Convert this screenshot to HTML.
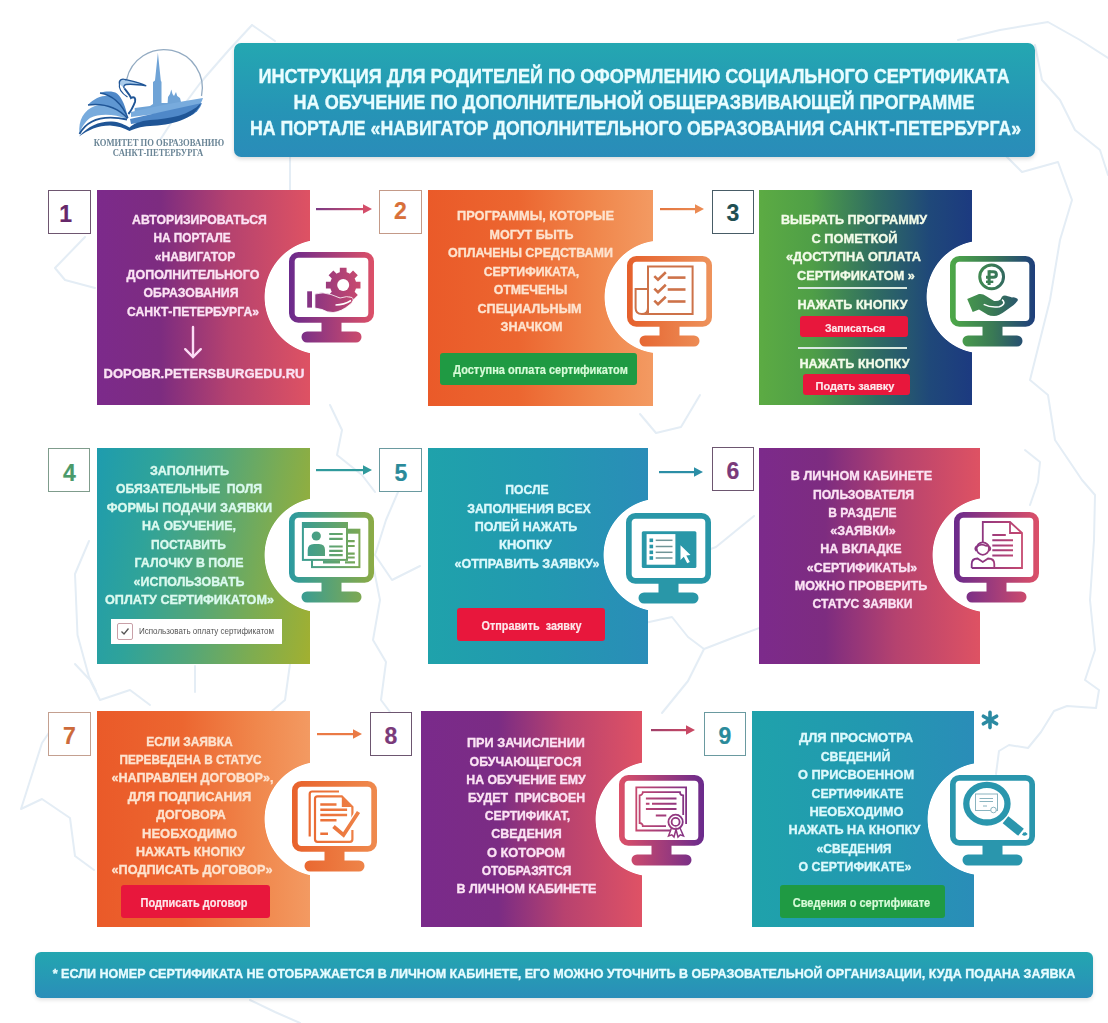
<!DOCTYPE html>
<html><head><meta charset="utf-8"><title>Инструкция</title><style>
html,body{margin:0;padding:0}
body{width:1108px;height:1023px;position:relative;overflow:hidden;background:#fff;font-family:"Liberation Sans", sans-serif}
.abs{position:absolute}
.card{position:absolute}
.circ{position:absolute;border-radius:50%;background:#fff;box-shadow:0 0 2px rgba(120,120,140,.35)}
.num{position:absolute;box-sizing:border-box;border:1.6px solid;background:#fff}
.dig{position:absolute;width:40px;text-align:center;font-weight:700;font-size:23px;line-height:23px;-webkit-text-stroke:0.2px currentColor}
.tb{position:absolute;text-align:center;font-weight:700;white-space:nowrap;transform-origin:50% 0;-webkit-text-stroke:0.35px currentColor}
.btn{position:absolute;border-radius:3px;text-align:center;font-weight:700;white-space:nowrap}
#hdr{position:absolute;left:234px;top:43px;width:801px;height:114px;border-radius:7px;background:linear-gradient(180deg,#24a7b1 0%,#2694b6 60%,#2a8cb9 100%);box-shadow:0 2px 4px rgba(0,0,0,.15)}
#ftr{position:absolute;left:35px;top:952px;width:1058px;height:46px;border-radius:6px;background:linear-gradient(180deg,#23a6b0 0%,#2a8eb9 100%);box-shadow:0 2px 4px rgba(0,0,0,.12)}
</style></head>
<body>
<svg class="abs" style="left:0;top:0" width="1108" height="1023" viewBox="0 0 1108 1023"><g fill="none" stroke="#e4edf5" stroke-width="2" stroke-linejoin="round" stroke-linecap="round"><path d="M252 25 L275 41"/><path d="M252 25 L228 51 L201 82 L175 117 L160 140"/><path d="M290 157 L290 190"/><path d="M958 40 L1000 30 L1048 22 L1080 40 L1108 58"/><path d="M1035 45 L1042 80 L1060 100 L1075 130 L1100 150 L1108 175"/><path d="M1000 150 L1022 172 L1058 162 L1072 200 L1060 240 L1050 300 L1035 360 L1030 380 L1048 395 L1055 440 L1082 480 L1095 495 L1094 540 L1090 600 L1095 650 L1085 680 L1099 690 L1096 708 L1067 706 L1054 711 L1041 732 L1028 748 L1009 745 L999 751 L996 774"/><path d="M1025 450 L1040 462 L1038 482 L1030 505"/><path d="M85 237 L55 268 L65 280 L95 288"/><path d="M330 405 L342 430 L337 455 L362 475 L375 492"/><path d="M398 492 L386 520 L375 555 L392 580 L420 566"/><path d="M372 560 L380 600 L373 640 L386 662 L381 700 L390 712"/><path d="M640 414 L656 433 L681 427 L700 395"/><path d="M754 516 L716 547 L681 560"/><path d="M640 624 L672 617 L688 637 L704 649 L735 637 L770 624"/><path d="M704 649 L688 681 L662 713"/><path d="M89 541 L75 574 L77.5 635 L89 677 L96 691"/><path d="M61 715 L42 743 L21 809 L42 799 L70 818 L75 856 L94 870"/><path d="M75 664 L90 680 L100 700 L130 690 L150 705"/><path d="M195 666 L195 692"/><path d="M290 664 L285 700 L272 711"/><path d="M250 1000 L275 1012 L300 1023"/></g></svg>
<div class="card" style="left:97px;top:190px;width:213px;height:215px;background:linear-gradient(90deg,#7c2a8b 0%,#7d2c80 30%,#b5426f 62%,#de5263 100%);-webkit-mask-image:radial-gradient(circle at 225px 107px, transparent 57px, #000 57.8px);mask-image:radial-gradient(circle at 225px 107px, transparent 57px, #000 57.8px)"></div>
<div class="card" style="left:428px;top:190px;width:225px;height:216px;background:linear-gradient(90deg,#ea5a29 0%,#ec6630 40%,#f0874c 75%,#f39a62 100%);-webkit-mask-image:radial-gradient(circle at 233px 107px, transparent 56px, #000 56.8px);mask-image:radial-gradient(circle at 233px 107px, transparent 56px, #000 56.8px)"></div>
<div class="card" style="left:759px;top:190px;width:213px;height:215px;background:linear-gradient(90deg,#5cab43 0%,#4f9f47 25%,#2f6c62 55%,#1f4879 80%,#1c3a80 100%);-webkit-mask-image:radial-gradient(circle at 224px 107px, transparent 56px, #000 56.8px);mask-image:radial-gradient(circle at 224px 107px, transparent 56px, #000 56.8px)"></div>
<div class="card" style="left:97px;top:448px;width:213px;height:216px;background:linear-gradient(100deg,#1e9cae 0%,#2fa39a 25%,#52a67a 50%,#7cac52 75%,#a2b030 100%);-webkit-mask-image:radial-gradient(circle at 225px 107px, transparent 57px, #000 57.8px);mask-image:radial-gradient(circle at 225px 107px, transparent 57px, #000 57.8px)"></div>
<div class="card" style="left:428px;top:448px;width:220px;height:216px;background:linear-gradient(90deg,#1fa2ab 0%,#2299b0 50%,#2a8db8 100%);-webkit-mask-image:radial-gradient(circle at 232px 107px, transparent 56px, #000 56.8px);mask-image:radial-gradient(circle at 232px 107px, transparent 56px, #000 56.8px)"></div>
<div class="card" style="left:759px;top:448px;width:221px;height:216px;background:linear-gradient(90deg,#7c2a8b 0%,#7d2c80 30%,#b5426f 62%,#de5263 100%);-webkit-mask-image:radial-gradient(circle at 231px 107px, transparent 57px, #000 57.8px);mask-image:radial-gradient(circle at 231px 107px, transparent 57px, #000 57.8px)"></div>
<div class="card" style="left:97px;top:711px;width:213px;height:216px;background:linear-gradient(90deg,#ea5a29 0%,#ec6630 40%,#f0874c 75%,#f39a62 100%);-webkit-mask-image:radial-gradient(circle at 225px 108px, transparent 57px, #000 57.8px);mask-image:radial-gradient(circle at 225px 108px, transparent 57px, #000 57.8px)"></div>
<div class="card" style="left:421px;top:711px;width:221px;height:216px;background:linear-gradient(90deg,#7a2a8b 0%,#7b2c84 35%,#b8426f 65%,#df5265 100%);-webkit-mask-image:radial-gradient(circle at 232px 108px, transparent 57px, #000 57.8px);mask-image:radial-gradient(circle at 232px 108px, transparent 57px, #000 57.8px)"></div>
<div class="card" style="left:752px;top:711px;width:222px;height:216px;background:linear-gradient(90deg,#1fa2ab 0%,#2299b0 50%,#2a8db8 100%);-webkit-mask-image:radial-gradient(circle at 232px 108px, transparent 56px, #000 56.8px);mask-image:radial-gradient(circle at 232px 108px, transparent 56px, #000 56.8px)"></div>
<div class="num" style="left:48.4px;top:190.4px;width:42.2px;height:44.1px;border-color:#6e5670"></div><div class="dig" style="left:45.6px;top:202.6px;color:#66286a">1</div>
<div class="num" style="left:379.2px;top:190.1px;width:42.5px;height:44.4px;border-color:#c49a88"></div><div class="dig" style="left:380.4px;top:199.6px;color:#d8703a">2</div>
<div class="num" style="left:711.8px;top:189.6px;width:42.2px;height:44.4px;border-color:#485c66"></div><div class="dig" style="left:712.9px;top:202.3px;color:#1f4f52">3</div>
<div class="num" style="left:47.85px;top:448.4px;width:41.9px;height:44.1px;border-color:#7f9c8c"></div><div class="dig" style="left:49.5px;top:461.7px;color:#4a9a6a">4</div>
<div class="num" style="left:379.2px;top:448.4px;width:42.5px;height:44.1px;border-color:#6a9aa0"></div><div class="dig" style="left:381.0px;top:461.7px;color:#2a8a9a">5</div>
<div class="num" style="left:711.6px;top:447.3px;width:42.3px;height:43.9px;border-color:#6d5670"></div><div class="dig" style="left:712.8px;top:459.5px;color:#7a3a7a">6</div>
<div class="num" style="left:48.1px;top:712.3px;width:42.5px;height:43.9px;border-color:#c4a090"></div><div class="dig" style="left:49.5px;top:725.3px;color:#cd6a3a">7</div>
<div class="num" style="left:369.75px;top:712.3px;width:42.2px;height:43.6px;border-color:#6d5670"></div><div class="dig" style="left:371.0px;top:725.0px;color:#7a3a7a">8</div>
<div class="num" style="left:703.7px;top:712px;width:42.2px;height:44.2px;border-color:#6a9aa0"></div><div class="dig" style="left:705.0px;top:725.0px;color:#2a8a9a">9</div>
<svg class="abs" style="left:316px;top:203px" width="56" height="12" viewBox="0 0 56 12"><defs><linearGradient id="ar1" x1="0" x2="1"><stop offset="0" stop-color="#7a3a84"/><stop offset="1" stop-color="#d44e6a"/></linearGradient></defs><rect x="0" y="5" width="50" height="2.2" fill="url(#ar1)"/><path d="M47 1.2 L56 6 L47 10.8 Z" fill="#d44e6a"/></svg>
<svg class="abs" style="left:660px;top:203px" width="44" height="12" viewBox="0 0 44 12"><defs><linearGradient id="ar2" x1="0" x2="1"><stop offset="0" stop-color="#e3763f"/><stop offset="1" stop-color="#eb8a52"/></linearGradient></defs><rect x="0" y="5" width="38" height="2.2" fill="url(#ar2)"/><path d="M35 1.2 L44 6 L35 10.8 Z" fill="#eb8a52"/></svg>
<svg class="abs" style="left:316px;top:464px" width="56" height="12" viewBox="0 0 56 12"><defs><linearGradient id="ar4" x1="0" x2="1"><stop offset="0" stop-color="#2f9a9c"/><stop offset="1" stop-color="#2f9a9c"/></linearGradient></defs><rect x="0" y="5" width="50" height="2.2" fill="url(#ar4)"/><path d="M47 1.2 L56 6 L47 10.8 Z" fill="#2f9a9c"/></svg>
<svg class="abs" style="left:659px;top:466px" width="44" height="12" viewBox="0 0 44 12"><defs><linearGradient id="ar5" x1="0" x2="1"><stop offset="0" stop-color="#2b8ea6"/><stop offset="1" stop-color="#2b8ea6"/></linearGradient></defs><rect x="0" y="5" width="38" height="2.2" fill="url(#ar5)"/><path d="M35 1.2 L44 6 L35 10.8 Z" fill="#2b8ea6"/></svg>
<svg class="abs" style="left:317px;top:728px" width="45" height="12" viewBox="0 0 45 12"><defs><linearGradient id="ar7" x1="0" x2="1"><stop offset="0" stop-color="#ea7a45"/><stop offset="1" stop-color="#ea7a45"/></linearGradient></defs><rect x="0" y="5" width="39" height="2.2" fill="url(#ar7)"/><path d="M36 1.2 L45 6 L36 10.8 Z" fill="#ea7a45"/></svg>
<svg class="abs" style="left:651px;top:724px" width="44" height="12" viewBox="0 0 44 12"><defs><linearGradient id="ar8" x1="0" x2="1"><stop offset="0" stop-color="#a0406a"/><stop offset="1" stop-color="#c84864"/></linearGradient></defs><rect x="0" y="5" width="38" height="2.2" fill="url(#ar8)"/><path d="M35 1.2 L44 6 L35 10.8 Z" fill="#c84864"/></svg>
<svg class="abs" style="left:289.35px;top:252.3px" width="86" height="92" viewBox="0 0 86 92"><defs><linearGradient id="m1" gradientUnits="userSpaceOnUse" x1="0" y1="0" x2="85" y2="0"><stop offset="0" stop-color="#6a2a8c"/><stop offset="1" stop-color="#dc5068"/></linearGradient></defs><rect x="2.85" y="2.85" width="79.3" height="65" rx="6.5" fill="#fff" stroke="url(#m1)" stroke-width="5.7"/><rect x="32.5" y="70" width="20" height="10" fill="url(#m1)"/><rect x="12.5" y="79.5" width="60" height="11" rx="5.5" fill="url(#m1)"/><rect x="18.2" y="39.3" width="4.8" height="16.3" fill="url(#m1)"/><path d="M50.01 20.58 L50.78 20.35 L50.84 15.82 L57.56 15.82 L57.62 20.35 L58.39 20.58 L60.09 21.29 L60.80 21.67 L64.04 18.51 L68.79 23.26 L65.63 26.50 L66.01 27.21 L66.72 28.91 L66.95 29.68 L71.48 29.74 L71.48 36.46 L66.95 36.52 L66.72 37.29 L66.01 38.99 L65.63 39.70 L68.79 42.94 L64.04 47.69 L60.80 44.53 L60.09 44.91 L58.39 45.62 L57.62 45.85 L57.56 50.38 L50.84 50.38 L50.78 45.85 L50.01 45.62 L48.31 44.91 L47.60 44.53 L44.36 47.69 L39.61 42.94 L42.77 39.70 L42.39 38.99 L41.68 37.29 L41.45 36.52 L36.92 36.46 L36.92 29.74 L41.45 29.68 L41.68 28.91 L42.39 27.21 L42.77 26.50 L39.61 23.26 L44.36 18.51 L47.60 21.67 L48.31 21.29 Z" fill="url(#m1)"/><circle cx="54.2" cy="33.1" r="6" fill="#fff"/><path d="M25.9 42 Q34 39.5 42 42.5 L51 46 Q58 43.5 63 45.5 Q66 48 61 52.5 Q52 60 44 60.5 Q38 60.5 33 57.5 L25.9 56 Z" fill="url(#m1)" stroke="#fff" stroke-width="0.8"/><path d="M46.5 53 Q55 53 62 48.5" fill="none" stroke="#fff" stroke-width="1.5"/></svg>
<svg class="abs" style="left:627.35px;top:255.75px" width="86" height="92" viewBox="0 0 86 92"><defs><linearGradient id="m2" gradientUnits="userSpaceOnUse" x1="0" y1="0" x2="85" y2="0"><stop offset="0" stop-color="#e5602c"/><stop offset="1" stop-color="#ee935c"/></linearGradient></defs><rect x="2.85" y="2.85" width="79.3" height="65" rx="6.5" fill="#fff" stroke="url(#m2)" stroke-width="5.7"/><rect x="32.5" y="70" width="20" height="10" fill="url(#m2)"/><rect x="12.5" y="79.5" width="60" height="11" rx="5.5" fill="url(#m2)"/><g fill="none" stroke="#cd7249" stroke-width="2"><path d="M21 58 V10.5 H65.6 V58 H14.8"/><path d="M21 33 H8.6 V52 Q8.6 58 14.8 58 Q21 58 21 52"/><g stroke-width="2.6"><path d="M27.3 20.1 L31 23.6 L38.8 16.3"/><path d="M27.3 32.6 L31 36.1 L38.8 28.8"/><path d="M27.3 44.6 L31 48.1 L38.8 40.8"/><path d="M40.7 21.6 H58.5"/><path d="M40.7 33.5 H58.5"/><path d="M40.7 45.5 H58.5"/></g></g></svg>
<svg class="abs" style="left:950.3px;top:255.75px" width="86" height="92" viewBox="0 0 86 92"><defs><linearGradient id="m3" gradientUnits="userSpaceOnUse" x1="0" y1="0" x2="85" y2="0"><stop offset="0" stop-color="#4ea948"/><stop offset="0.5" stop-color="#3a7a55"/><stop offset="1" stop-color="#1e3e7c"/></linearGradient></defs><rect x="2.85" y="2.85" width="79.3" height="65" rx="6.5" fill="#fff" stroke="url(#m3)" stroke-width="5.7"/><rect x="32.5" y="70" width="20" height="10" fill="url(#m3)"/><rect x="12.5" y="79.5" width="60" height="11" rx="5.5" fill="url(#m3)"/><circle cx="41.65" cy="20.8" r="11.9" fill="none" stroke="url(#m3)" stroke-width="3"/><g fill="none" stroke="url(#m3)"><path d="M39.1 14.25 V29" stroke-width="3.1"/><path d="M39.1 15.75 H43.2 Q46.4 15.75 46.4 18.5 Q46.4 21.3 43.2 21.3 H36" stroke-width="3"/><path d="M36 25.8 H43.3" stroke-width="2.4"/></g><path d="M17.2 42.9 L29 38 Q33 37.5 36 40 L44.1 45 Q48 45.5 50.5 43.5 Q52 40 53.3 39.7 Q55.5 39 57.9 40.3 Q60 40.5 62 41.4 Q64 41 66 42 Q68.5 43 67.7 44.5 Q66 47 63.7 49 L55 55.3 Q49 60 44.1 60 Q40 60 37.7 58.8 L29 53.6 L22.7 55.9 Z" fill="url(#m3)"/><path d="M33.7 48.4 Q41 52 49.3 50.7 Q54 49 53.9 46.5 Q53.5 44.5 52 43.8" fill="none" stroke="#fff" stroke-width="1.6"/></svg>
<svg class="abs" style="left:289.35px;top:512.3px" width="86" height="92" viewBox="0 0 86 92"><defs><linearGradient id="m4" gradientUnits="userSpaceOnUse" x1="0" y1="0" x2="85" y2="0"><stop offset="0" stop-color="#2b9aa0"/><stop offset="1" stop-color="#8cab45"/></linearGradient></defs><rect x="2.85" y="2.85" width="79.3" height="65" rx="6.5" fill="#fff" stroke="url(#m4)" stroke-width="5.7"/><rect x="32.5" y="70" width="20" height="10" fill="url(#m4)"/><rect x="12.5" y="79.5" width="60" height="11" rx="5.5" fill="url(#m4)"/><rect x="23" y="17.7" width="47.4" height="37.4" fill="#fff" stroke="url(#m4)" stroke-width="2"/><rect x="23" y="17.7" width="47.4" height="4" fill="url(#m4)"/><rect x="13.9" y="11" width="44.1" height="36.9" fill="#fff" stroke="url(#m4)" stroke-width="2"/><rect x="13.9" y="11" width="44.1" height="5" fill="url(#m4)"/><circle cx="27.3" cy="24" r="4.6" fill="url(#m4)"/><path d="M18.7 44.1 V38 Q18.7 32 25 32 H30 Q36 32 36 38 V44.1 Z" fill="url(#m4)"/><g stroke="url(#m4)" stroke-width="2.2"><path d="M40.2 22 H53.7 M40.2 26.8 H53.7 M40.2 34.5 H53.7 M40.2 38.8 H53.7 M40.2 43.1 H53.7"/><path d="M58 29.2 H65.7 M58 34 H65.7 M58 41.7 H65.7 M58 45.5 H65.7 M56 50.3 H66"/><path d="M34 50 H51" stroke-width="3"/></g></svg>
<svg class="abs" style="left:626.3px;top:512.8px" width="86" height="92" viewBox="0 0 86 92"><defs><linearGradient id="m5" gradientUnits="userSpaceOnUse" x1="0" y1="0" x2="85" y2="0"><stop offset="0" stop-color="#2997a8"/><stop offset="1" stop-color="#2997a8"/></linearGradient></defs><rect x="2.85" y="2.85" width="79.3" height="65" rx="6.5" fill="#fff" stroke="url(#m5)" stroke-width="5.7"/><rect x="32.5" y="70" width="20" height="10" fill="url(#m5)"/><rect x="12.5" y="79.5" width="60" height="11" rx="5.5" fill="url(#m5)"/><rect x="15.8" y="18.2" width="54.6" height="36.9" rx="1.5" fill="url(#m5)"/><rect x="20.6" y="21.1" width="28.8" height="30.6" fill="#fff"/><rect x="23.5" y="25.5" width="3.6" height="3.6" fill="url(#m5)"/><path d="M29.7 27.3 H46.5" stroke="#6f9597" stroke-width="1.5"/><rect x="23.5" y="31.7" width="3.6" height="3.6" fill="url(#m5)"/><path d="M29.7 33.5 H46.5" stroke="#6f9597" stroke-width="1.5"/><rect x="23.5" y="37.5" width="3.6" height="3.6" fill="url(#m5)"/><path d="M29.7 39.3 H46.5" stroke="#6f9597" stroke-width="1.5"/><rect x="23.5" y="43.2" width="3.6" height="3.6" fill="url(#m5)"/><path d="M29.7 45 H46.5" stroke="#6f9597" stroke-width="1.5"/><path d="M54.5 32.2 L64.5 42 L60.3 42.6 L63.8 49 L61.2 50.3 L57.8 43.8 L54.5 47 Z" fill="#fff"/></svg>
<svg class="abs" style="left:954.3px;top:511.75px" width="86" height="92" viewBox="0 0 86 92"><defs><linearGradient id="m6" gradientUnits="userSpaceOnUse" x1="0" y1="0" x2="85" y2="0"><stop offset="0" stop-color="#6a2a8c"/><stop offset="1" stop-color="#dc5068"/></linearGradient></defs><rect x="2.85" y="2.85" width="79.3" height="65" rx="6.5" fill="#fff" stroke="url(#m6)" stroke-width="5.7"/><rect x="32.5" y="70" width="20" height="10" fill="url(#m6)"/><rect x="12.5" y="79.5" width="60" height="11" rx="5.5" fill="url(#m6)"/><g fill="none" stroke="url(#m6)" stroke-width="1.8"><path d="M28.8 30 V10 H56 L68 21 V56 H17.7"/><path d="M56 10 V21 H68"/><path d="M38.3 23 H51.8 M38.3 28.3 H59 M38.3 33.5 H59 M38.3 38.3 H59 M38.3 43.6 H59" stroke-width="2"/><circle cx="28.8" cy="36.6" r="6.2" fill="#fff"/><path d="M22.8 35 Q26 31.5 30 33 Q33 34.5 35 33"/><path d="M22.6 34.5 Q20.5 36.6 22.6 38.8 M35 34.5 Q37.1 36.6 35 38.8" stroke-width="2.2"/><path d="M17.7 56 V52 Q17.7 46.5 23.5 46.5 L28.8 50 L34.1 46.5 Q40.3 46.5 40.3 52 V56"/></g></svg>
<svg class="abs" style="left:291.8px;top:780.8px" width="86" height="92" viewBox="0 0 86 92"><defs><linearGradient id="m7" gradientUnits="userSpaceOnUse" x1="0" y1="0" x2="85" y2="0"><stop offset="0" stop-color="#e8622c"/><stop offset="1" stop-color="#ef8a4e"/></linearGradient></defs><rect x="2.85" y="2.85" width="79.3" height="65" rx="6.5" fill="#fff" stroke="url(#m7)" stroke-width="5.7"/><rect x="32.5" y="70" width="20" height="10" fill="url(#m7)"/><rect x="12.5" y="79.5" width="60" height="11" rx="5.5" fill="url(#m7)"/><g fill="none" stroke="url(#m7)" stroke-width="2.2"><path d="M17.7 55.6 V13 Q17.7 10.5 20.2 10.5 H47"/><path d="M60.4 38 V26 L49.8 15.3 H25.5 Q23 15.3 23 17.8 V58.3 Q23 60.8 25.5 60.8 H57.9 Q60.4 60.8 60.4 58.3 V49"/><path d="M28.3 23.5 H44.5 M28.3 28.7 H55.1 M28.3 34 H55.1 M28.3 39.3 H44.5 M28.3 52.7 H36" stroke-width="2.6"/></g><path d="M49.8 15.3 V26 H60.4 Z" fill="url(#m7)"/><path d="M41.5 45.5 L51.5 54 L66.5 31" fill="none" stroke="#fff" stroke-width="6.5"/><path d="M41.5 45.5 L51.5 54 L66.5 31" fill="none" stroke="url(#m7)" stroke-width="3.8"/></svg>
<svg class="abs" style="left:618.8px;top:775.3px" width="86" height="92" viewBox="0 0 86 92"><defs><linearGradient id="m8" gradientUnits="userSpaceOnUse" x1="0" y1="0" x2="85" y2="0"><stop offset="0" stop-color="#dc5068"/><stop offset="1" stop-color="#6a2a8c"/></linearGradient></defs><rect x="2.85" y="2.85" width="79.3" height="65" rx="6.5" fill="#fff" stroke="url(#m8)" stroke-width="5.7"/><rect x="32.5" y="70" width="20" height="10" fill="url(#m8)"/><rect x="12.5" y="79.5" width="60" height="11" rx="5.5" fill="url(#m8)"/><g fill="none" stroke="url(#m8)" stroke-width="1.8"><path d="M52 55.5 H17.3 V12.4 H67.1 V49"/><path d="M47 51.2 H23.8 A3.2 3.2 0 0 0 20.6 48 V20.4 A3.2 3.2 0 0 0 23.8 17.2 H61 A3.2 3.2 0 0 0 64.2 20.4 V40"/><path d="M26.9 23.5 H57.5 M26.9 28.7 H30.5 M33 28.7 H57.5 M26.9 34 H57.5 M36.8 40.5 H47.3" stroke-width="2"/><circle cx="56.6" cy="46.9" r="7.2" fill="#fff"/><circle cx="56.6" cy="46.9" r="4"/><path d="M52.5 53 L49.5 61 L52.8 59.8 L55 62 L57 54.5 L59 62 L61.3 59.8 L64.5 61 L61 53" stroke-width="1.5"/></g></svg>
<svg class="abs" style="left:950.3px;top:775.3px" width="86" height="92" viewBox="0 0 86 92"><defs><linearGradient id="m9" gradientUnits="userSpaceOnUse" x1="0" y1="0" x2="85" y2="0"><stop offset="0" stop-color="#2a96ad"/><stop offset="1" stop-color="#2a96ad"/></linearGradient></defs><rect x="2.85" y="2.85" width="79.3" height="65" rx="6.5" fill="#fff" stroke="url(#m9)" stroke-width="5.7"/><rect x="32.5" y="70" width="20" height="10" fill="url(#m9)"/><rect x="12.5" y="79.5" width="60" height="11" rx="5.5" fill="url(#m9)"/><g fill="none" stroke="#8ab4bf" stroke-width="1"><rect x="25.5" y="19" width="22" height="16.5"/><path d="M29.5 23.5 H43 M29.5 26.5 H43 M33 31 H37"/><circle cx="43.5" cy="35" r="2.8" fill="#fff"/></g><ellipse cx="36.9" cy="28.7" rx="20.6" ry="18.8" fill="none" stroke="url(#m9)" stroke-width="6.3"/><path d="M55.5 44.8 L71 57.3" stroke="url(#m9)" stroke-width="9"/><path d="M72.8 58.5 Q75 60 76.5 58" stroke="url(#m9)" stroke-width="3"/></svg>
<svg class="abs" style="left:180px;top:322px" width="26" height="40" viewBox="180 322 26 40"><g fill="none" stroke="#fcdcf5" stroke-width="2.4" stroke-linecap="round"><path d="M193 327 V356"/><path d="M185.2 349.2 L193 357 L200.8 349.2"/></g></svg>
<svg class="abs" style="left:0;top:0" width="240" height="170" viewBox="0 0 240 170">
<path d="M126.5 80 A38 38 0 1 1 201.5 96" fill="none" stroke="#93abc2" stroke-width="1.3"/>
<path d="M134.7 108 L150 106 L153 104 L153 82 L155 80.5 L157.9 52.8 L160.8 80.5 L161.5 82 L161.5 103 L167.6 103 L168 97 L170 94 L171.3 89.5 L172.5 94 L174 96 L176 92 L177.2 96 L180 98 L182 106 L197 107 L197 112 L134.7 112 Z" fill="#6fa3d6"/>
<path d="M131 112 Q165 104 203 98 Q201 105 196 108 Q165 113 131 117 Z" fill="#78abdd"/>
<path d="M130 119 Q165 111 202 103 Q199 112 190 116 Q160 120 131 124 Z" fill="#4f88c8"/>
<path d="M79.5 134 C78 120 84 110 95 106 C105 103 116 106 127 119 C115 114 100 113 90 118 C85 122 81 128 79.5 134 Z" fill="#78abdd"/>
<path d="M79.5 134 C86 122 100 114 127 119.5" fill="none" stroke="#1f5596" stroke-width="1.8"/>
<path d="M88 105 C95 97 106 94 114 97 C120 100 125 110 127.5 118.5 C118 108 105 103 88 105 Z" fill="#5f97d2"/>
<path d="M88 105 C105 103 118 108 127.5 118.5" fill="none" stroke="#1f5596" stroke-width="1.6"/>
<path d="M100 93 C106 91 113 91 117 93.5 C122 97 126 108 128 118 C122 104 112 95 100 93 Z" fill="#4f88c8"/>
<path d="M100 93 C112 95 122 104 128 118" fill="none" stroke="#1f5596" stroke-width="1.3"/>
<path d="M79 136.5 C88 126 100 121 112 121.5 C120 122 125 125 129.5 127.5 C133 124 140 121 150 120 C170 119 190 115 201 103 C195 120 170 125 150 126 C140 126.5 134 129 129.5 131 C124 128 118 126 110 125.5 C98 125.5 88 130 79 136.5 Z" fill="#1f5596"/>
<path d="M119.5 84 C118.5 80 122 78.5 125 79.5 C132 81 140 82.5 146.2 85.8 C138 84.5 130 84 126 84.5 C124 85 123 87 124.5 88.5" fill="#a9cbea" stroke="#1f5596" stroke-width="1.3"/>
<path d="M124.5 88.5 C127 92 130 95 131 98 C134 96 136 98 135 102 C133 107 131 111 128.4 114" fill="none" stroke="#1f5596" stroke-width="2"/>
<path d="M119.5 84 C118 90 123 94 127.5 97" fill="none" stroke="#1f5596" stroke-width="1.2"/>
</svg>
<div class="abs" style="left:59.35px;top:137.9px;width:200px;text-align:center;font-family:'Liberation Serif',serif;font-weight:700;font-size:10.5px;line-height:10.5px;color:#6a8596;white-space:nowrap;transform:scaleX(0.817);transform-origin:50% 0">КОМИТЕТ ПО ОБРАЗОВАНИЮ</div>
<div class="abs" style="left:57.85px;top:148.3px;width:200px;text-align:center;font-family:'Liberation Serif',serif;font-weight:700;font-size:10.5px;line-height:10.5px;color:#6a8596;white-space:nowrap;transform:scaleX(0.818);transform-origin:50% 0">САНКТ-ПЕТЕРБУРГА</div>
<div id="hdr"></div>
<div id="ftr"></div>
<div class="tb" style="left:209.5px;top:63.3px;width:848px;font-size:19.5px;line-height:26px;color:#e8fdff;transform:scaleX(0.9289);"><div>ИНСТРУКЦИЯ ДЛЯ РОДИТЕЛЕЙ ПО ОФОРМЛЕНИЮ СОЦИАЛЬНОГО СЕРТИФИКАТА</div></div>
<div class="tb" style="left:246.5px;top:89.3px;width:774px;font-size:19.5px;line-height:26px;color:#e8fdff;transform:scaleX(0.9274);"><div>НА ОБУЧЕНИЕ ПО ДОПОЛНИТЕЛЬНОЙ ОБЩЕРАЗВИВАЮЩЕЙ ПРОГРАММЕ</div></div>
<div class="tb" style="left:192.0px;top:115.3px;width:887px;font-size:19.5px;line-height:26px;color:#e8fdff;transform:scaleX(0.9094);"><div>НА ПОРТАЛЕ «НАВИГАТОР ДОПОЛНИТЕЛЬНОГО ОБРАЗОВАНИЯ САНКТ-ПЕТЕРБУРГА»</div></div>
<div class="tb" style="left:-5.8px;top:963.9px;width:1140px;font-size:13.5px;line-height:20px;color:#e6fcff;transform:scaleX(0.9292);"><div>* ЕСЛИ НОМЕР СЕРТИФИКАТА НЕ ОТОБРАЖАЕТСЯ В ЛИЧНОМ КАБИНЕТЕ, ЕГО МОЖНО УТОЧНИТЬ В ОБРАЗОВАТЕЛЬНОЙ ОРГАНИЗАЦИИ, КУДА ПОДАНА ЗАЯВКА</div></div>
<div class="tb" style="left:108.4px;top:210.9px;width:183px;font-size:13px;line-height:18.34px;color:#fbe3f4;transform:scaleX(0.9406);"><div>АВТОРИЗИРОВАТЬСЯ</div></div>
<div class="tb" style="left:130.2px;top:229.2px;width:124px;font-size:13px;line-height:18.34px;color:#fbe3f4;transform:scaleX(0.9102);"><div>НА ПОРТАЛЕ</div></div>
<div class="tb" style="left:131.6px;top:247.5px;width:126px;font-size:13px;line-height:18.34px;color:#fbe3f4;transform:scaleX(0.9302);"><div>«НАВИГАТОР</div></div>
<div class="tb" style="left:103.5px;top:265.9px;width:178px;font-size:13px;line-height:18.34px;color:#fbe3f4;transform:scaleX(0.962);"><div>ДОПОЛНИТЕЛЬНОГО</div></div>
<div class="tb" style="left:121.4px;top:284.2px;width:140px;font-size:13px;line-height:18.34px;color:#fbe3f4;transform:scaleX(0.9427);"><div>ОБРАЗОВАНИЯ</div></div>
<div class="tb" style="left:103.0px;top:302.6px;width:180px;font-size:13px;line-height:18.34px;color:#fbe3f4;transform:scaleX(0.9387);"><div>САНКТ-ПЕТЕРБУРГА»</div></div>
<div class="tb" style="left:83.5px;top:364.5px;width:240px;font-size:13px;line-height:18px;color:#fbe3f4;transform:scaleX(1.001);"><div>DOPOBR.PETERSBURGEDU.RU</div></div>
<div class="tb" style="left:436.0px;top:207.4px;width:199px;font-size:13px;line-height:18.45px;color:#fde3cf;transform:scaleX(0.9831);"><div>ПРОГРАММЫ, КОТОРЫЕ</div></div>
<div class="tb" style="left:467.5px;top:225.9px;width:127px;font-size:13px;line-height:18.45px;color:#fde3cf;transform:scaleX(0.9621);"><div>МОГУТ БЫТЬ</div></div>
<div class="tb" style="left:425.0px;top:244.3px;width:211px;font-size:13px;line-height:18.45px;color:#fde3cf;transform:scaleX(0.9603);"><div>ОПЛАЧЕНЫ СРЕДСТВАМИ</div></div>
<div class="tb" style="left:461.0px;top:262.8px;width:141px;font-size:13px;line-height:18.45px;color:#fde3cf;transform:scaleX(0.9457);"><div>СЕРТИФИКАТА,</div></div>
<div class="tb" style="left:472.4px;top:281.2px;width:117px;font-size:13px;line-height:18.45px;color:#fde3cf;transform:scaleX(0.9512);"><div>ОТМЕЧЕНЫ</div></div>
<div class="tb" style="left:455.9px;top:299.7px;width:147px;font-size:13px;line-height:18.45px;color:#fde3cf;transform:scaleX(0.9701);"><div>СПЕЦИАЛЬНЫМ</div></div>
<div class="tb" style="left:480.0px;top:318.1px;width:103px;font-size:13px;line-height:18.45px;color:#fde3cf;transform:scaleX(0.9695);"><div>ЗНАЧКОМ</div></div>
<div class="tb" style="left:759.0px;top:211.0px;width:190px;font-size:13px;line-height:18.5px;color:#f3fbe9;transform:scaleX(0.9693);"><div>ВЫБРАТЬ ПРОГРАММУ</div></div>
<div class="tb" style="left:791.2px;top:229.5px;width:127px;font-size:13px;line-height:18.5px;color:#f3fbe9;transform:scaleX(0.9874);"><div>С ПОМЕТКОЙ</div></div>
<div class="tb" style="left:765.0px;top:248.0px;width:177px;font-size:13px;line-height:18.5px;color:#f3fbe9;transform:scaleX(0.9835);"><div>«ДОСТУПНА ОПЛАТА</div></div>
<div class="tb" style="left:775.7px;top:266.5px;width:160px;font-size:13px;line-height:18.5px;color:#f3fbe9;transform:scaleX(0.9787);"><div>СЕРТИФИКАТОМ »</div></div>
<div class="tb" style="left:775.5px;top:295.8px;width:153px;font-size:13px;line-height:18px;color:#f3fbe9;transform:scaleX(0.9709);"><div>НАЖАТЬ КНОПКУ</div></div>
<div class="tb" style="left:777.5px;top:355.0px;width:153px;font-size:13px;line-height:18px;color:#f3fbe9;transform:scaleX(0.9709);"><div>НАЖАТЬ КНОПКУ</div></div>
<div class="tb" style="left:129.0px;top:461.9px;width:121px;font-size:13px;line-height:18.49px;color:#dbf9ef;transform:scaleX(0.9677);"><div>ЗАПОЛНИТЬ</div></div>
<div class="tb" style="left:91.0px;top:480.4px;width:196px;font-size:13px;line-height:18.49px;color:#dbf9ef;transform:scaleX(0.9356);"><div>ОБЯЗАТЕЛЬНЫЕ &nbsp;ПОЛЯ</div></div>
<div class="tb" style="left:84.8px;top:498.9px;width:209px;font-size:13px;line-height:18.49px;color:#dbf9ef;transform:scaleX(0.9767);"><div>ФОРМЫ ПОДАЧИ ЗАЯВКИ</div></div>
<div class="tb" style="left:120.4px;top:517.4px;width:138px;font-size:13px;line-height:18.49px;color:#dbf9ef;transform:scaleX(0.9549);"><div>НА ОБУЧЕНИЕ,</div></div>
<div class="tb" style="left:127.9px;top:535.9px;width:121px;font-size:13px;line-height:18.49px;color:#dbf9ef;transform:scaleX(0.9242);"><div>ПОСТАВИТЬ</div></div>
<div class="tb" style="left:112.4px;top:554.3px;width:154px;font-size:13px;line-height:18.49px;color:#dbf9ef;transform:scaleX(0.9514);"><div>ГАЛОЧКУ В ПОЛЕ</div></div>
<div class="tb" style="left:111.4px;top:572.8px;width:156px;font-size:13px;line-height:18.49px;color:#dbf9ef;transform:scaleX(0.9544);"><div>«ИСПОЛЬЗОВАТЬ</div></div>
<div class="tb" style="left:83.0px;top:591.3px;width:213px;font-size:13px;line-height:18.49px;color:#dbf9ef;transform:scaleX(0.9728);"><div>ОПЛАТУ СЕРТИФИКАТОМ»</div></div>
<div class="tb" style="left:483.6px;top:481.4px;width:86px;font-size:13px;line-height:18.35px;color:#dcf9fc;transform:scaleX(0.935);"><div>ПОСЛЕ</div></div>
<div class="tb" style="left:443.8px;top:499.7px;width:170px;font-size:13px;line-height:18.35px;color:#dcf9fc;transform:scaleX(0.9429);"><div>ЗАПОЛНЕНИЯ ВСЕХ</div></div>
<div class="tb" style="left:452.6px;top:518.1px;width:146px;font-size:13px;line-height:18.35px;color:#dcf9fc;transform:scaleX(0.9621);"><div>ПОЛЕЙ НАЖАТЬ</div></div>
<div class="tb" style="left:478.6px;top:536.4px;width:93px;font-size:13px;line-height:18.35px;color:#dcf9fc;transform:scaleX(0.9939);"><div>КНОПКУ</div></div>
<div class="tb" style="left:431.5px;top:554.8px;width:190px;font-size:13px;line-height:18.35px;color:#dcf9fc;transform:scaleX(0.9634);"><div>«ОТПРАВИТЬ ЗАЯВКУ»</div></div>
<div class="tb" style="left:768.8px;top:467.2px;width:185px;font-size:13px;line-height:18.26px;color:#fbe3f4;transform:scaleX(0.9743);"><div>В ЛИЧНОМ КАБИНЕТЕ</div></div>
<div class="tb" style="left:789.9px;top:485.5px;width:147px;font-size:13px;line-height:18.26px;color:#fbe3f4;transform:scaleX(0.9377);"><div>ПОЛЬЗОВАТЕЛЯ</div></div>
<div class="tb" style="left:806.2px;top:503.7px;width:113px;font-size:13px;line-height:18.26px;color:#fbe3f4;transform:scaleX(0.9255);"><div>В РАЗДЕЛЕ</div></div>
<div class="tb" style="left:808.8px;top:522.0px;width:108px;font-size:13px;line-height:18.26px;color:#fbe3f4;transform:scaleX(0.9645);"><div>«ЗАЯВКИ»</div></div>
<div class="tb" style="left:799.4px;top:540.2px;width:124px;font-size:13px;line-height:18.26px;color:#fbe3f4;transform:scaleX(0.9612);"><div>НА ВКЛАДКЕ</div></div>
<div class="tb" style="left:783.5px;top:558.5px;width:156px;font-size:13px;line-height:18.26px;color:#fbe3f4;transform:scaleX(0.9501);"><div>«СЕРТИФИКАТЫ»</div></div>
<div class="tb" style="left:772.8px;top:576.8px;width:176px;font-size:13px;line-height:18.26px;color:#fbe3f4;transform:scaleX(0.9675);"><div>МОЖНО ПРОВЕРИТЬ</div></div>
<div class="tb" style="left:789.2px;top:595.0px;width:147px;font-size:13px;line-height:18.26px;color:#fbe3f4;transform:scaleX(0.9284);"><div>СТАТУС ЗАЯВКИ</div></div>
<div class="tb" style="left:123.3px;top:732.5px;width:133px;font-size:13px;line-height:18.4px;color:#fde3cf;transform:scaleX(0.925);"><div>ЕСЛИ ЗАЯВКА</div></div>
<div class="tb" style="left:91.5px;top:750.9px;width:197px;font-size:13px;line-height:18.4px;color:#fde3cf;transform:scaleX(0.9039);"><div>ПЕРЕВЕДЕНА В СТАТУС</div></div>
<div class="tb" style="left:88.5px;top:769.3px;width:207px;font-size:13px;line-height:18.4px;color:#fde3cf;transform:scaleX(0.9682);"><div>«НАПРАВЛЕН ДОГОВОР»,</div></div>
<div class="tb" style="left:106.9px;top:787.7px;width:165px;font-size:13px;line-height:18.4px;color:#fde3cf;transform:scaleX(0.9879);"><div>ДЛЯ ПОДПИСАНИЯ</div></div>
<div class="tb" style="left:134.9px;top:806.1px;width:112px;font-size:13px;line-height:18.4px;color:#fde3cf;transform:scaleX(0.9577);"><div>ДОГОВОРА</div></div>
<div class="tb" style="left:122.4px;top:824.5px;width:135px;font-size:13px;line-height:18.4px;color:#fde3cf;transform:scaleX(0.9998);"><div>НЕОБХОДИМО</div></div>
<div class="tb" style="left:113.9px;top:842.9px;width:153px;font-size:13px;line-height:18.4px;color:#fde3cf;transform:scaleX(0.9603);"><div>НАЖАТЬ КНОПКУ</div></div>
<div class="tb" style="left:89.5px;top:861.3px;width:204px;font-size:13px;line-height:18.4px;color:#fde3cf;transform:scaleX(0.9761);"><div>«ПОДПИСАТЬ ДОГОВОР»</div></div>
<div class="tb" style="left:446.0px;top:734.4px;width:160px;font-size:13px;line-height:18.2px;color:#fbe3f4;transform:scaleX(0.9757);"><div>ПРИ ЗАЧИСЛЕНИИ</div></div>
<div class="tb" style="left:447.0px;top:752.6px;width:157px;font-size:13px;line-height:18.2px;color:#fbe3f4;transform:scaleX(0.9547);"><div>ОБУЧАЮЩЕГОСЯ</div></div>
<div class="tb" style="left:443.0px;top:770.8px;width:166px;font-size:13px;line-height:18.2px;color:#fbe3f4;transform:scaleX(0.9467);"><div>НА ОБУЧЕНИЕ ЕМУ</div></div>
<div class="tb" style="left:444.5px;top:789.0px;width:163px;font-size:13px;line-height:18.2px;color:#fbe3f4;transform:scaleX(0.9487);"><div>БУДЕТ &nbsp;ПРИСВОЕН</div></div>
<div class="tb" style="left:461.5px;top:807.2px;width:131px;font-size:13px;line-height:18.2px;color:#fbe3f4;transform:scaleX(0.9373);"><div>СЕРТИФИКАТ,</div></div>
<div class="tb" style="left:469.5px;top:825.4px;width:113px;font-size:13px;line-height:18.2px;color:#fbe3f4;transform:scaleX(0.9623);"><div>СВЕДЕНИЯ</div></div>
<div class="tb" style="left:466.5px;top:843.6px;width:118px;font-size:13px;line-height:18.2px;color:#fbe3f4;transform:scaleX(0.9905);"><div>О КОТОРОМ</div></div>
<div class="tb" style="left:457.5px;top:861.8px;width:137px;font-size:13px;line-height:18.2px;color:#fbe3f4;transform:scaleX(0.9157);"><div>ОТОБРАЗЯТСЯ</div></div>
<div class="tb" style="left:433.5px;top:880.0px;width:185px;font-size:13px;line-height:18.2px;color:#fbe3f4;transform:scaleX(0.964);"><div>В ЛИЧНОМ КАБИНЕТЕ</div></div>
<div class="tb" style="left:778.5px;top:729.4px;width:154px;font-size:13px;line-height:18.39px;color:#dcf9fc;transform:scaleX(0.9973);"><div>ДЛЯ ПРОСМОТРА</div></div>
<div class="tb" style="left:799.0px;top:747.8px;width:113px;font-size:13px;line-height:18.39px;color:#dcf9fc;transform:scaleX(0.9487);"><div>СВЕДЕНИЙ</div></div>
<div class="tb" style="left:776.5px;top:766.2px;width:158px;font-size:13px;line-height:18.39px;color:#dcf9fc;transform:scaleX(0.9844);"><div>О ПРИСВОЕННОМ</div></div>
<div class="tb" style="left:788.5px;top:784.6px;width:137px;font-size:13px;line-height:18.39px;color:#dcf9fc;transform:scaleX(0.9418);"><div>СЕРТИФИКАТЕ</div></div>
<div class="tb" style="left:788.5px;top:803.0px;width:135px;font-size:13px;line-height:18.39px;color:#dcf9fc;transform:scaleX(0.9893);"><div>НЕОБХОДИМО</div></div>
<div class="tb" style="left:766.5px;top:821.4px;width:175px;font-size:13px;line-height:18.39px;color:#dcf9fc;transform:scaleX(0.9728);"><div>НАЖАТЬ НА КНОПКУ</div></div>
<div class="tb" style="left:793.9px;top:839.8px;width:120px;font-size:13px;line-height:18.39px;color:#dcf9fc;transform:scaleX(0.9295);"><div>«СВЕДЕНИЯ</div></div>
<div class="tb" style="left:776.0px;top:858.2px;width:158px;font-size:13px;line-height:18.39px;color:#dcf9fc;transform:scaleX(0.9533);"><div>О СЕРТИФИКАТЕ»</div></div>
<div class="abs" style="left:798px;top:287px;width:109px;height:2px;background:#d8e8e0"></div>
<div class="abs" style="left:798px;top:347px;width:109px;height:2px;background:#d8e8e0"></div>
<div class="btn" style="left:439.5px;top:353.2px;width:197.5px;height:31.80000000000001px;background:#1f9a43"></div><div class="tb" style="left:433.8px;top:362.1px;width:213px;font-size:12.2px;line-height:16px;color:#d8fbd8;transform:scaleX(0.9012);-webkit-text-stroke:0.2px currentColor"><div>Доступна оплата сертификатом</div></div>
<div class="btn" style="left:800px;top:316px;width:108px;height:21px;background:#e8173c"></div><div class="tb" style="left:812.0px;top:319.5px;width:86px;font-size:11.5px;line-height:16px;color:#fde8ec;transform:scaleX(0.9042);-webkit-text-stroke:0.2px currentColor"><div>Записаться</div></div>
<div class="btn" style="left:803px;top:374px;width:107px;height:21px;background:#e8173c"></div><div class="tb" style="left:804.2px;top:378.0px;width:102px;font-size:11.5px;line-height:16px;color:#fde8ec;transform:scaleX(0.9537);-webkit-text-stroke:0.2px currentColor"><div>Подать заявку</div></div>
<div class="btn" style="left:457px;top:608px;width:148px;height:33px;background:#e8173c"></div><div class="tb" style="left:463.5px;top:617.5px;width:135px;font-size:12.5px;line-height:16px;color:#fde8ec;transform:scaleX(0.8673);-webkit-text-stroke:0.2px currentColor"><div>Отправить &nbsp;заявку</div></div>
<div class="btn" style="left:121px;top:885px;width:149px;height:33px;background:#e8173c"></div><div class="tb" style="left:122.5px;top:894.5px;width:142px;font-size:12.5px;line-height:16px;color:#fde8ec;transform:scaleX(0.877);-webkit-text-stroke:0.2px currentColor"><div>Подписать договор</div></div>
<div class="btn" style="left:780px;top:885px;width:165px;height:33px;background:#1f9a43"></div><div class="tb" style="left:774.2px;top:894.5px;width:175px;font-size:12.5px;line-height:16px;color:#d8fbd8;transform:scaleX(0.8837);-webkit-text-stroke:0.2px currentColor"><div>Сведения о сертификате</div></div>
<div class="abs" style="left:111px;top:619px;width:171px;height:25px;background:#fff"></div>
<div class="abs" style="left:117px;top:623px;width:14px;height:15px;border:1px solid #c9a0a8;border-radius:2px;background:#fff"></div>
<svg class="abs" style="left:117px;top:623px" width="16" height="17" viewBox="0 0 16 17"><path d="M4.5 8.5 L7 11 L11.5 5.5" fill="none" stroke="#555" stroke-width="1.3"/></svg>
<div class="abs" style="left:139px;top:626px;font-size:9px;line-height:11px;color:#555;white-space:nowrap;transform-origin:0 0;transform:scaleX(0.89)">Использовать оплату сертификатом</div>
<svg class="abs" style="left:980px;top:710px" width="20" height="20" viewBox="-10 -10 20 20"><g stroke="#2b8aa2" stroke-width="3.6" stroke-linecap="round"><path d="M0 -7.6 V7.6"/><path d="M-6.6 -3.8 L6.6 3.8"/><path d="M-6.6 3.8 L6.6 -3.8"/></g></svg>
</body></html>
